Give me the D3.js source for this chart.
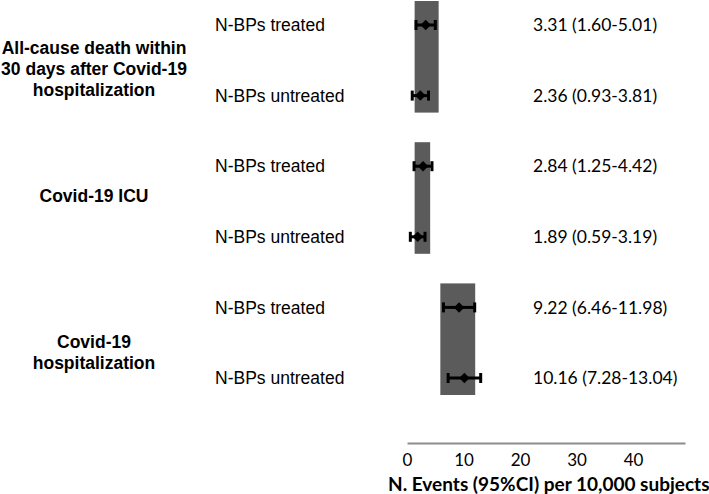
<!DOCTYPE html>
<html>
<head>
<meta charset="utf-8">
<script src="https://cdn.jsdelivr.net/npm/d3@7"></script>
<style>
  html, body { margin: 0; padding: 0; background: #fff; }
  svg { display: block; }
</style>
</head>
<body>
<svg id="chart" width="709" height="494"></svg>
<script>
// ---- data ----
const groupLines = [
  ["All-cause death within", "30 days after Covid-19", "hospitalization"],
  ["Covid-19 ICU"],
  ["Covid-19", "hospitalization"]
];
const seriesNames = ["N-BPs treated", "N-BPs untreated"];
const estimates = [3.31, 2.36, 2.84, 1.89, 9.22, 10.16];
const lower     = [1.60, 0.93, 1.25, 0.59, 6.46, 7.28];
const upper     = [5.01, 3.81, 4.42, 3.19, 11.98, 13.04];
const valueLabels = [
  "3.31 (1.60-5.01)", "2.36 (0.93-3.81)",
  "2.84 (1.25-4.42)", "1.89 (0.59-3.19)",
  "9.22 (6.46-11.98)", "10.16 (7.28-13.04)"
];
const bandLow  = [1.35, 1.35, 5.9];
const bandHigh = [5.6, 4.1, 12.07];
const tickValues = [0, 10, 20, 30, 40];
const axisTitle = "N. Events (95%CI) per 10,000 subjects";

// ---- layout ----
const svg = d3.select("#chart");
const rows = d3.range(estimates.length);
const x = d3.scaleLinear().domain([0, 49.2]).range([407, 685]);
const y = d3.scalePoint().domain(rows).range([25, 378]);
const groupLabelShift = [9, -6, 10];

// grey bands per group
const bands = svg.append("g");
groupLines.forEach((g, i) => {
  const yt = y(2 * i) - 24, yb = y(2 * i + 1) + 17;
  bands.append("rect")
    .attr("x", x(bandLow[i]))
    .attr("y", Math.max(0, yt))
    .attr("width", x(bandHigh[i]) - x(bandLow[i]))
    .attr("height", yb - Math.max(0, yt))
    .attr("fill", "#5b5b5b");
});

// error bars
const eb = svg.append("g").attr("stroke", "#000").attr("stroke-width", 3);
rows.forEach(r => {
  const yy = y(r);
  eb.append("line").attr("x1", x(lower[r])).attr("x2", x(upper[r])).attr("y1", yy).attr("y2", yy);
  [lower[r], upper[r]].forEach(v => {
    eb.append("line").attr("x1", x(v)).attr("x2", x(v)).attr("y1", yy - 5).attr("y2", yy + 5);
  });
});
svg.append("g").selectAll("path").data(rows).join("path")
  .attr("d", d3.symbol(d3.symbolDiamond2, 70))
  .attr("transform", r => `translate(${x(estimates[r])},${y(r)})`)
  .attr("fill", "#000");

// series labels
svg.append("g").selectAll("text").data(rows).join("text")
  .attr("x", 215).attr("y", r => y(r)).attr("dy", "0.35em")
  .attr("font-family", "Liberation Sans, Arial, sans-serif")
  .attr("font-size", 17.5)
  .attr("fill", "#000")
  .text(r => seriesNames[r % 2]);

// value labels
svg.append("g").selectAll("text").data(rows).join("text")
  .attr("x", 533).attr("y", r => y(r)).attr("dy", "0.35em")
  .attr("font-family", "Lato, sans-serif")
  .attr("font-size", 17.5)
  .attr("fill", "#000")
  .text(r => valueLabels[r]);

// group labels
groupLines.forEach((lines, i) => {
  const cy = (y(2 * i) + y(2 * i + 1)) / 2 + groupLabelShift[i];
  const lh = 21;
  const t = svg.append("text")
    .attr("font-family", "Liberation Sans, Arial, sans-serif")
    .attr("font-weight", "bold")
    .attr("font-size", 17.5)
    .attr("text-anchor", "middle")
    .attr("fill", "#000");
  lines.forEach((ln, j) => {
    t.append("tspan").attr("x", 94)
      .attr("y", cy + (j - (lines.length - 1) / 2) * lh)
      .attr("dy", "0.35em")
      .text(ln);
  });
});

// x axis
const axis = d3.axisBottom(x).tickValues(tickValues).tickSize(0).tickPadding(11).tickFormat(d3.format("d"));
const ax = svg.append("g").attr("transform", "translate(0,443)").call(axis);
ax.select(".domain").attr("stroke", "#8c8c8c").attr("stroke-width", 2);
ax.selectAll("text")
  .attr("font-family", "Lato, sans-serif")
  .attr("font-size", 17)
  .attr("fill", "#000");

svg.append("text")
  .attr("x", 388).attr("y", 491)
  .attr("font-family", "Lato, sans-serif")
  .attr("font-weight", "bold")
  .attr("font-size", 19)
  .attr("fill", "#000")
  .text(axisTitle);
</script>
</body>
</html>
